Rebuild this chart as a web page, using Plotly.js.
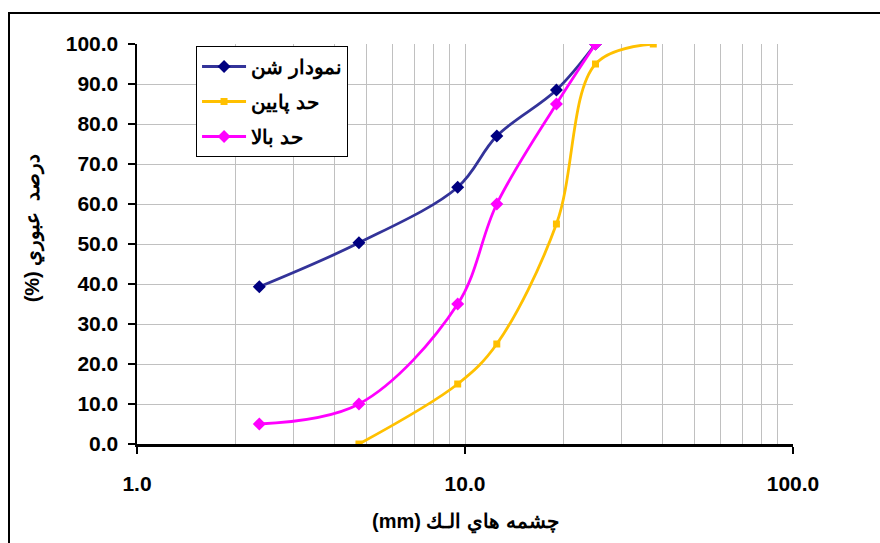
<!DOCTYPE html>
<html>
<head>
<meta charset="utf-8">
<script src="https://cdn.plot.ly/plotly-3.0.1.min.js"></script>
<style>
html,body{margin:0;padding:0;overflow:hidden;background:#fff;}
#wrap{position:relative;width:880px;height:543px;}
#chart{position:absolute;left:0;top:0;width:880px;height:543px;}
#frame{position:absolute;left:8px;top:12px;width:900px;height:600px;border-left:2px solid #000;border-top:2px solid #000;pointer-events:none;}
</style>
</head>
<body>
<div id="wrap"><div id="chart"></div><div id="frame"></div></div>
<script>
// Sieve sizes (mm) and percent passing
const sizesGravel = [2.36, 4.75, 9.5, 12.5, 19, 25];
const passGravel  = [39.3, 50.3, 64.2, 77.0, 88.5, 100.0];

const sizesLower  = [4.75, 9.5, 12.5, 19, 25, 37.5];
const passLower   = [0.0, 15.0, 25.0, 55.0, 95.0, 100.0];

const sizesUpper  = [2.36, 4.75, 9.5, 12.5, 19, 25];
const passUpper   = [5.0, 10.0, 35.0, 60.0, 85.0, 100.0];

const seriesNames = ['نمودار شن', 'حد پايين', 'حد بالا'];

const xTickVals = [1, 10, 100];
const xTickText = ['1.0', '10.0', '100.0'];
const xMinorVals = [2,3,4,5,6,7,8,9,20,30,40,50,60,70,80,90];

const FONT = 'Liberation Sans, Arial, sans-serif';

const traces = [
  {x: sizesGravel, y: passGravel, name: seriesNames[0], legendgroup: 'a', mode: 'lines+markers',
   line: {color: '#333399', width: 2.8, shape: 'spline', smoothing: 1},
   marker: {symbol: 'diamond', size: 10, color: '#000080'}},
  {x: sizesLower, y: passLower, name: seriesNames[1], legendgroup: 'b', mode: 'lines+markers',
   line: {color: '#FFC000', width: 2.8, shape: 'spline', smoothing: 1},
   marker: {symbol: 'square', size: 7, color: '#FFC000'}},
  {x: sizesUpper, y: passUpper, name: seriesNames[2], legendgroup: 'c', mode: 'lines+markers',
   line: {color: '#FF00FF', width: 2.8, shape: 'spline', smoothing: 1},
   marker: {symbol: 'diamond', size: 10, color: '#FF00FF'}}
];

const layout = {
  width: 880, height: 543,
  margin: {l: 137, r: 87, t: 43.5, b: 99, pad: 0},
  paper_bgcolor: '#fff', plot_bgcolor: '#fff',
  font: {family: FONT, size: 20, color: '#000', weight: 'bold'},
  showlegend: true,
  legend: {x: 0.09, y: 0.995, xanchor: 'left', yanchor: 'top',
           bgcolor: '#fff', bordercolor: '#000', borderwidth: 1,
           font: {family: FONT, size: 20, color: '#000', weight: 'bold'},
           traceorder: 'grouped', tracegroupgap: 6, itemwidth: 44},
  xaxis: {type: 'log', range: [0, 2], tickvals: xTickVals, ticktext: xTickText,
          ticks: 'outside', ticklen: 7, tickwidth: 2, tickcolor: '#000',
          showline: true, linecolor: '#000', linewidth: 2.5,
          showgrid: true, gridcolor: '#C0C0C0', gridwidth: 1,
          minor: {tickvals: xMinorVals, showgrid: true, gridcolor: '#C0C0C0', gridwidth: 1, ticks: ''},
          zeroline: false, ticklabelstandoff: 12,
          tickfont: {family: FONT, size: 21, color: '#000', weight: 'bold'}},
  yaxis: {range: [0, 100], dtick: 10, tick0: 0, tickformat: '.1f',
          ticks: 'outside', ticklen: 7, tickwidth: 2, tickcolor: '#000',
          showline: true, linecolor: '#000', linewidth: 2.5,
          showgrid: true, gridcolor: '#C0C0C0', gridwidth: 1,
          zeroline: false, ticklabelstandoff: 5,
          tickfont: {family: FONT, size: 21, color: '#000', weight: 'bold'}},
  annotations: [
    {text: '\u202Bچشمه هاي الـك (mm)\u202C', xref: 'paper', yref: 'paper',
     x: 0.5, y: -0.195, xanchor: 'center', yanchor: 'middle', showarrow: false,
     font: {family: FONT, size: 20, color: '#000', weight: 'bold'}},
    {text: '\u202Bدرصد  عبوري (%)\u202C', xref: 'paper', yref: 'paper',
     x: -0.158, y: 0.54, xanchor: 'center', yanchor: 'middle', showarrow: false, textangle: -90,
     font: {family: FONT, size: 20, color: '#000', weight: 'bold'}}
  ]
};

Plotly.newPlot('chart', traces, layout, {displayModeBar: false, staticPlot: true});
</script>
</body>
</html>
